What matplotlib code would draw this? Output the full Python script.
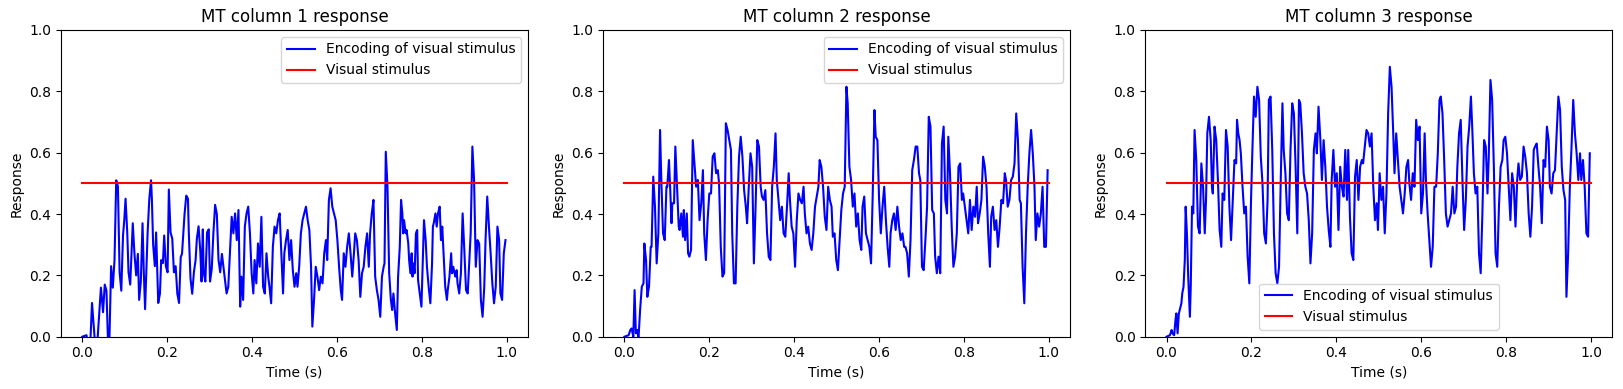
import matplotlib
matplotlib.use("Agg")
import matplotlib.pyplot as plt

# encoded responses of the three MT columns
col1_t = [0.000, 0.010, 0.014, 0.019, 0.023, 0.030, 0.035, 0.044, 0.049, 0.053, 0.057, 0.061, 0.064, 0.068,
          0.072, 0.076, 0.080, 0.084, 0.088, 0.092, 0.096, 0.099, 0.102, 0.106, 0.109, 0.113, 0.119, 0.123,
          0.127, 0.131, 0.134, 0.138, 0.142, 0.145, 0.148, 0.154, 0.158, 0.162, 0.164, 0.167, 0.171, 0.174,
          0.179, 0.183, 0.186, 0.190, 0.193, 0.197, 0.201, 0.204, 0.208, 0.212, 0.216, 0.220, 0.224, 0.228,
          0.232, 0.235, 0.241, 0.245, 0.249, 0.251, 0.255, 0.259, 0.263, 0.267, 0.270, 0.274, 0.278, 0.281,
          0.284, 0.286, 0.290, 0.294, 0.298, 0.301, 0.305, 0.309, 0.313, 0.317, 0.321, 0.325, 0.329,
          0.340, 0.344, 0.352, 0.356, 0.360, 0.364, 0.368, 0.372, 0.375, 0.379, 0.383, 0.387, 0.391, 0.395,
          0.399, 0.403, 0.406, 0.410, 0.414, 0.418, 0.422, 0.426, 0.430, 0.434, 0.438, 0.441, 0.445, 0.449,
          0.453, 0.457, 0.461, 0.465, 0.469, 0.473, 0.476, 0.480, 0.484, 0.488, 0.492, 0.496, 0.500, 0.504,
          0.507, 0.511, 0.515, 0.519, 0.523, 0.527, 0.531, 0.535, 0.539, 0.542, 0.546, 0.550, 0.554, 0.558,
          0.562, 0.566, 0.570, 0.574, 0.577, 0.581, 0.585, 0.589, 0.593, 0.597, 0.601, 0.605, 0.609, 0.612,
          0.616, 0.620, 0.624, 0.628, 0.632, 0.636, 0.640, 0.643, 0.647, 0.651, 0.655, 0.659, 0.663, 0.667,
          0.671, 0.675, 0.678, 0.682, 0.686,
          0.690, 0.694, 0.698, 0.702, 0.706, 0.710, 0.712, 0.715, 0.719, 0.723, 0.727, 0.730, 0.733, 0.737,
          0.741, 0.744, 0.748, 0.751, 0.754, 0.756, 0.758, 0.762, 0.764, 0.768, 0.770, 0.773, 0.776, 0.778,
          0.780, 0.783, 0.786, 0.789, 0.791, 0.793, 0.797, 0.799, 0.803, 0.805, 0.809, 0.812, 0.816, 0.820,
          0.824, 0.826, 0.828, 0.832, 0.835, 0.838, 0.842, 0.845, 0.848, 0.851, 0.855, 0.859, 0.861, 0.865,
          0.869, 0.871, 0.874, 0.877, 0.879, 0.882, 0.884, 0.888, 0.892, 0.896, 0.900, 0.904, 0.908, 0.912,
          0.915, 0.919, 0.923, 0.927, 0.931, 0.935, 0.939, 0.943, 0.947, 0.950, 0.954, 0.958, 0.962, 0.966,
          0.970, 0.974, 0.978, 0.982, 0.985, 0.989, 0.993, 0.997]
col1_v = [0.000, 0.005, -0.030, -0.020, 0.110, -0.020, -0.030, 0.160, 0.080, 0.170, 0.150, -0.030, -0.010, 0.230,
          0.160, 0.250, 0.510, 0.490, 0.210, 0.150, 0.330, 0.380, 0.450, 0.340, 0.210, 0.170, 0.370, 0.270,
          0.200, 0.270, 0.120, 0.180, 0.370, 0.210, 0.090, 0.340, 0.450, 0.510, 0.450, 0.300, 0.230, 0.340,
          0.110, 0.140, 0.250, 0.240, 0.330, 0.230, 0.210, 0.480, 0.340, 0.320, 0.210, 0.230, 0.140, 0.110,
          0.260, 0.270, 0.400, 0.460, 0.450, 0.340, 0.190, 0.140, 0.210, 0.250, 0.320, 0.360, 0.280, 0.180,
          0.350, 0.210, 0.180, 0.340, 0.350, 0.180, 0.220, 0.340, 0.430, 0.400, 0.250, 0.210, 0.270,
          0.141, 0.163, 0.391, 0.337, 0.402, 0.315, 0.413, 0.098, 0.196, 0.120, 0.359, 0.402, 0.424, 0.337,
          0.207, 0.141, 0.250, 0.174, 0.304, 0.228, 0.391, 0.163, 0.141, 0.272, 0.196, 0.163, 0.109, 0.293,
          0.359, 0.337, 0.380, 0.402, 0.272, 0.141, 0.272, 0.315, 0.348, 0.250, 0.315, 0.217, 0.163, 0.207,
          0.163, 0.228, 0.337, 0.380, 0.402, 0.424, 0.380, 0.348, 0.228, 0.033, 0.120, 0.228, 0.196, 0.152,
          0.196, 0.174, 0.272, 0.315, 0.250, 0.446, 0.484, 0.424, 0.402, 0.380, 0.315, 0.228, 0.152, 0.120,
          0.272, 0.228, 0.293, 0.337, 0.272, 0.196, 0.272, 0.337, 0.315, 0.250, 0.130, 0.207, 0.228, 0.293,
          0.337, 0.228, 0.337, 0.402, 0.446,
          0.196, 0.152, 0.120, 0.065, 0.196, 0.228, 0.239, 0.603, 0.489, 0.207, 0.120, 0.087, 0.141, 0.076,
          0.022, 0.196, 0.293, 0.446, 0.402, 0.337, 0.380, 0.337, 0.348, 0.304, 0.250, 0.207, 0.272, 0.196,
          0.239, 0.207, 0.337, 0.348, 0.185, 0.163, 0.120, 0.098, 0.283, 0.380, 0.315, 0.228, 0.163, 0.109,
          0.239, 0.359, 0.370, 0.402, 0.359, 0.402, 0.424, 0.315, 0.359, 0.272, 0.163, 0.120, 0.152, 0.196,
          0.272, 0.207, 0.228, 0.207, 0.196, 0.217, 0.174, 0.141, 0.207, 0.402, 0.283, 0.152, 0.141, 0.250,
          0.337, 0.620, 0.511, 0.228, 0.315, 0.304, 0.120, 0.065, 0.163, 0.315, 0.457, 0.359, 0.272, 0.174,
          0.109, 0.163, 0.359, 0.315, 0.141, 0.120, 0.272, 0.315]

col2_t = [0.000, 0.010, 0.014, 0.017, 0.021, 0.024, 0.027, 0.031, 0.033, 0.037, 0.041, 0.045, 0.047, 0.051,
          0.054, 0.058, 0.062, 0.064, 0.068, 0.072, 0.076, 0.080, 0.084, 0.087, 0.091, 0.095, 0.099, 0.101,
          0.105, 0.108, 0.111, 0.113, 0.117, 0.120, 0.124, 0.128, 0.130, 0.134, 0.138, 0.140, 0.143, 0.147,
          0.150, 0.153, 0.157, 0.161, 0.165, 0.169, 0.173, 0.177, 0.181, 0.185, 0.188, 0.192, 0.196, 0.200,
          0.204, 0.208, 0.212, 0.216, 0.220, 0.223, 0.227, 0.231, 0.235, 0.239, 0.243, 0.247, 0.251, 0.254,
          0.258, 0.262, 0.266, 0.270, 0.274, 0.278, 0.282, 0.286, 0.289, 0.293, 0.297, 0.301, 0.305, 0.309,
          0.313, 0.317,
          0.321, 0.324, 0.328, 0.332, 0.336, 0.340, 0.344, 0.348, 0.352, 0.356, 0.359, 0.363, 0.367, 0.371,
          0.375, 0.379, 0.383, 0.387, 0.390, 0.394, 0.398, 0.402, 0.406, 0.410, 0.414, 0.418, 0.422, 0.425,
          0.429, 0.433, 0.437, 0.441, 0.445, 0.449, 0.453, 0.457, 0.460, 0.464, 0.468, 0.472, 0.476, 0.480,
          0.484, 0.488, 0.491, 0.495, 0.499, 0.503, 0.507, 0.511, 0.515, 0.519, 0.523, 0.526, 0.530, 0.534,
          0.538, 0.542, 0.546, 0.550, 0.554, 0.558, 0.561, 0.565, 0.569, 0.573, 0.577, 0.581, 0.585, 0.589,
          0.592, 0.596, 0.600, 0.604, 0.608, 0.612, 0.616, 0.620, 0.624, 0.627, 0.631, 0.635, 0.639, 0.643,
          0.647, 0.651, 0.655, 0.659, 0.662, 0.666, 0.670, 0.674, 0.678, 0.682, 0.686, 0.690,
          0.694, 0.697, 0.701, 0.705, 0.709, 0.713, 0.717, 0.721, 0.725, 0.729, 0.732, 0.736, 0.740, 0.744,
          0.748, 0.752, 0.756, 0.760, 0.763, 0.767, 0.771, 0.775, 0.779, 0.783, 0.787, 0.791, 0.795, 0.798,
          0.802, 0.806, 0.810, 0.814, 0.818, 0.822, 0.826, 0.830, 0.833, 0.837, 0.841, 0.845, 0.849, 0.853,
          0.857, 0.861, 0.864, 0.868, 0.872, 0.876, 0.880, 0.884, 0.888, 0.892, 0.896, 0.899, 0.903, 0.907,
          0.911, 0.915, 0.919, 0.923, 0.927, 0.931, 0.934, 0.938, 0.942, 0.946, 0.950, 0.954, 0.958, 0.962,
          0.966, 0.969, 0.973, 0.977, 0.981, 0.985, 0.989, 0.993, 0.997]
col2_v = [0.000, 0.005, 0.022, 0.027, 0.000, 0.152, 0.011, 0.022, -0.010, 0.087, 0.163, 0.174, 0.304, 0.250,
          0.130, 0.163, 0.293, 0.293, 0.522, 0.424, 0.239, 0.337, 0.674, 0.511, 0.337, 0.315, 0.489, 0.489,
          0.576, 0.478, 0.370, 0.435, 0.435, 0.620, 0.489, 0.359, 0.348, 0.402, 0.326, 0.413, 0.315, 0.402,
          0.272, 0.261, 0.283, 0.641, 0.565, 0.489, 0.511, 0.380, 0.435, 0.543, 0.337, 0.250, 0.380, 0.467,
          0.467, 0.587, 0.598, 0.533, 0.543, 0.500, 0.293, 0.196, 0.207, 0.696, 0.674, 0.641, 0.609, 0.337,
          0.174, 0.174, 0.424, 0.587, 0.652, 0.587, 0.478, 0.424, 0.370, 0.489, 0.598, 0.554, 0.239, 0.424,
          0.641, 0.620,
          0.489, 0.457, 0.446, 0.478, 0.337, 0.261, 0.250, 0.489, 0.554, 0.663, 0.511, 0.446, 0.380, 0.424,
          0.337, 0.326, 0.424, 0.533, 0.446, 0.359, 0.337, 0.228, 0.380, 0.467, 0.446, 0.435, 0.489, 0.402,
          0.337, 0.359, 0.304, 0.283, 0.337, 0.424, 0.457, 0.489, 0.576, 0.554, 0.489, 0.391, 0.348, 0.489,
          0.446, 0.424, 0.326, 0.337, 0.250, 0.217, 0.315, 0.413, 0.467, 0.489, 0.815, 0.761, 0.554, 0.511,
          0.424, 0.467, 0.359, 0.402, 0.315, 0.283, 0.424, 0.457, 0.337, 0.315, 0.293, 0.239, 0.467, 0.739,
          0.652, 0.641, 0.446, 0.337, 0.424, 0.489, 0.380, 0.293, 0.228, 0.337, 0.380, 0.402, 0.348, 0.424,
          0.359, 0.315, 0.337, 0.293, 0.293, 0.272, 0.196, 0.315, 0.543, 0.576, 0.620, 0.620,
          0.533, 0.511, 0.228, 0.217, 0.315, 0.424, 0.717, 0.685, 0.413, 0.402, 0.261, 0.207, 0.261, 0.207,
          0.630, 0.685, 0.446, 0.402, 0.652, 0.533, 0.359, 0.228, 0.261, 0.337, 0.554, 0.565, 0.446, 0.467,
          0.424, 0.380, 0.337, 0.446, 0.348, 0.424, 0.391, 0.489, 0.370, 0.402, 0.446, 0.587, 0.554, 0.489,
          0.337, 0.228, 0.391, 0.424, 0.348, 0.380, 0.293, 0.359, 0.446, 0.435, 0.533, 0.511, 0.424, 0.446,
          0.511, 0.522, 0.565, 0.728, 0.641, 0.446, 0.435, 0.228, 0.109, 0.337, 0.489, 0.598, 0.674, 0.598,
          0.489, 0.315, 0.402, 0.359, 0.402, 0.489, 0.293, 0.293, 0.543]

col3_t = [0.000, 0.008, 0.012, 0.014, 0.018, 0.021, 0.023, 0.026, 0.029, 0.033, 0.035, 0.037, 0.040, 0.043,
          0.045, 0.048, 0.051, 0.055, 0.057, 0.060, 0.063, 0.066, 0.070, 0.074, 0.078, 0.082, 0.086, 0.090,
          0.093, 0.096, 0.100, 0.104, 0.107, 0.109, 0.113, 0.117, 0.121, 0.125, 0.129, 0.132, 0.136, 0.140,
          0.144, 0.148, 0.152, 0.156, 0.160, 0.164, 0.166, 0.169, 0.172, 0.175, 0.179, 0.183, 0.187, 0.191,
          0.195, 0.199, 0.202, 0.206, 0.210, 0.214, 0.218, 0.222, 0.226, 0.230, 0.234, 0.238, 0.241, 0.245,
          0.249, 0.253, 0.257, 0.261, 0.265, 0.269, 0.273, 0.276, 0.280, 0.284, 0.288, 0.292, 0.296, 0.300,
          0.304, 0.308, 0.312, 0.315,
          0.319, 0.323, 0.327, 0.331, 0.335, 0.339, 0.343, 0.347, 0.351, 0.354, 0.358, 0.362, 0.366, 0.370,
          0.374, 0.378, 0.382, 0.386, 0.389, 0.393, 0.397, 0.401, 0.405, 0.409, 0.413, 0.417, 0.421, 0.425,
          0.428, 0.432, 0.436, 0.440, 0.444, 0.448, 0.452, 0.456, 0.460, 0.463, 0.467, 0.471, 0.475, 0.479,
          0.483, 0.487, 0.491, 0.495, 0.498, 0.502, 0.506, 0.510, 0.514, 0.518, 0.522, 0.526, 0.530, 0.534,
          0.537, 0.541, 0.545, 0.549, 0.553, 0.557, 0.561, 0.565, 0.569, 0.572, 0.576, 0.580, 0.584, 0.588,
          0.592, 0.596, 0.600, 0.604, 0.608, 0.611, 0.615, 0.619, 0.623, 0.627, 0.631, 0.635, 0.639, 0.643,
          0.646, 0.650, 0.654, 0.658, 0.662, 0.666, 0.670, 0.674, 0.678, 0.682, 0.685, 0.689, 0.693,
          0.697, 0.701, 0.705, 0.709, 0.713, 0.717, 0.720, 0.724, 0.728, 0.732, 0.736, 0.740, 0.744, 0.748,
          0.752, 0.756, 0.759, 0.763, 0.767, 0.771, 0.775, 0.779, 0.783, 0.787, 0.791, 0.794, 0.798, 0.802,
          0.806, 0.810, 0.814, 0.818, 0.822, 0.826, 0.829, 0.833, 0.837, 0.841, 0.845, 0.849, 0.853, 0.857,
          0.861, 0.865, 0.868, 0.872, 0.876, 0.880, 0.884, 0.888, 0.892, 0.896, 0.900, 0.903, 0.907, 0.911,
          0.915, 0.919, 0.923, 0.927, 0.931, 0.935, 0.939, 0.942, 0.946, 0.950, 0.954, 0.958, 0.962, 0.966,
          0.970, 0.974, 0.977, 0.981, 0.985, 0.989, 0.993, 0.997]
col3_v = [0.000, 0.005, 0.022, 0.011, 0.005, 0.054, 0.076, 0.011, 0.076, 0.098, 0.109, 0.141, 0.163, 0.250,
          0.424, 0.337, 0.196, 0.065, 0.163, 0.424, 0.402, 0.674, 0.576, 0.359, 0.337, 0.565, 0.489, 0.337,
          0.446, 0.663, 0.717, 0.641, 0.489, 0.467, 0.685, 0.641, 0.511, 0.348, 0.293, 0.467, 0.446, 0.674,
          0.620, 0.424, 0.315, 0.446, 0.576, 0.565, 0.707, 0.663, 0.641, 0.598, 0.489, 0.402, 0.424, 0.261,
          0.174, 0.446, 0.598, 0.783, 0.717, 0.815, 0.772, 0.587, 0.500, 0.337, 0.304, 0.446, 0.772, 0.783,
          0.609, 0.337, 0.207, 0.174, 0.228, 0.511, 0.761, 0.609, 0.533, 0.402, 0.380, 0.609, 0.761, 0.728,
          0.554, 0.337, 0.772, 0.761,
          0.663, 0.533, 0.489, 0.467, 0.380, 0.239, 0.337, 0.609, 0.663, 0.598, 0.750, 0.652, 0.511, 0.641,
          0.554, 0.424, 0.348, 0.293, 0.511, 0.609, 0.489, 0.533, 0.348, 0.554, 0.489, 0.457, 0.609, 0.446,
          0.609, 0.391, 0.272, 0.250, 0.522, 0.576, 0.446, 0.554, 0.576, 0.565, 0.620, 0.674, 0.663, 0.620,
          0.663, 0.489, 0.380, 0.435, 0.348, 0.533, 0.446, 0.489, 0.337, 0.467, 0.728, 0.880, 0.815, 0.663,
          0.533, 0.663, 0.576, 0.489, 0.446, 0.402, 0.467, 0.554, 0.576, 0.500, 0.446, 0.533, 0.489, 0.707,
          0.641, 0.685, 0.402, 0.467, 0.663, 0.511, 0.402, 0.315, 0.228, 0.293, 0.489, 0.489, 0.598, 0.772,
          0.783, 0.728, 0.576, 0.402, 0.359, 0.380, 0.402, 0.489, 0.402, 0.424, 0.554, 0.663, 0.707,
          0.511, 0.348, 0.446, 0.620, 0.685, 0.783, 0.685, 0.533, 0.467, 0.489, 0.272, 0.207, 0.402, 0.641,
          0.620, 0.467, 0.587, 0.837, 0.772, 0.554, 0.272, 0.228, 0.424, 0.554, 0.576, 0.641, 0.652, 0.598,
          0.489, 0.380, 0.533, 0.489, 0.359, 0.511, 0.565, 0.511, 0.522, 0.620, 0.587, 0.533, 0.402, 0.326,
          0.424, 0.609, 0.620, 0.630, 0.554, 0.489, 0.370, 0.576, 0.554, 0.685, 0.641, 0.489, 0.467, 0.533,
          0.543, 0.663, 0.783, 0.739, 0.554, 0.478, 0.446, 0.130, 0.272, 0.489, 0.620, 0.772, 0.663, 0.598,
          0.511, 0.598, 0.511, 0.576, 0.489, 0.337, 0.326, 0.598]

stim_t = [0.0, 1.0]
stim_v = [0.5, 0.5]

titles = ["MT column 1 response", "MT column 2 response", "MT column 3 response"]
legend_locs = ["upper right", "upper right", "lower center"]


def main():
    series = [(col1_t, col1_v), (col2_t, col2_v), (col3_t, col3_v)]

    fig, axes = plt.subplots(1, 3, figsize=(16.23, 3.89), dpi=100)
    fig.subplots_adjust(left=0.0376, right=0.9934, bottom=0.1344, top=0.9229, wspace=0.161)

    for ax, (t, v), title, loc in zip(axes, series, titles, legend_locs):
        ax.plot(t, v, color="b", linewidth=1.5, label="Encoding of visual stimulus")
        ax.plot(stim_t, stim_v, color="r", linewidth=1.5, label="Visual stimulus")
        ax.set_ylim(0, 1)
        ax.set_title(title, fontsize=12)
        ax.set_xlabel("Time (s)", fontsize=10)
        ax.set_ylabel("Response", fontsize=10)
        ax.tick_params(labelsize=10)
        ax.legend(loc=loc, fontsize=10)

    fig.savefig("out.png", dpi=100)
    plt.close(fig)


if __name__ == "__main__":
    main()
